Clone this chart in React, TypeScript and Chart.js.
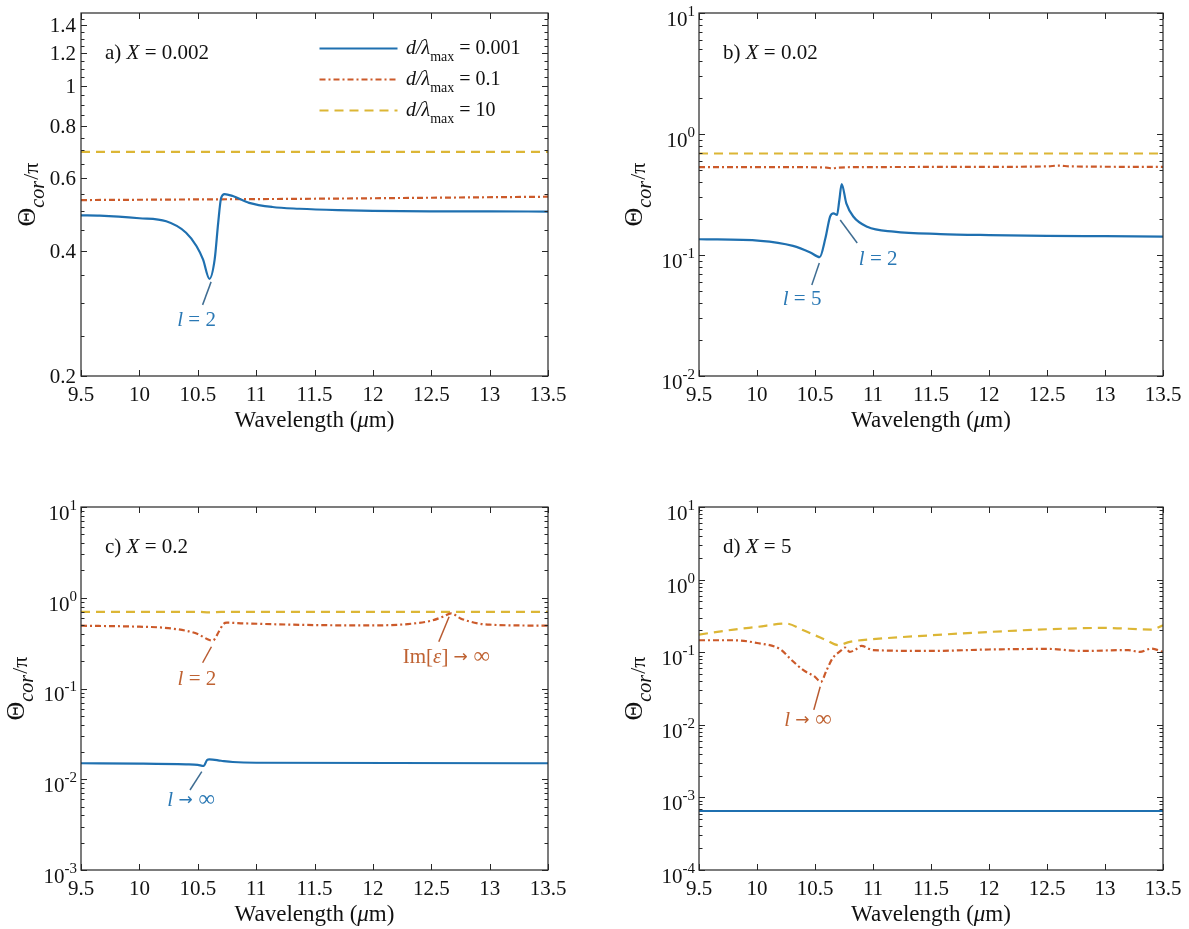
import React, { useEffect, useRef } from 'react';
import { Chart, registerables } from 'chart.js';

Chart.register(...registerables);

const SERIF = '"Liberation Serif", "Times New Roman", Times, serif';
const AXIS = '#262626';
const TEXT = '#111111';
const BLUE = '#1f70b0';
const RED = '#cc5a2a';
const YELLOW = '#dcb635';
const BLUE_TXT = '#2a78b4';
const BLUE_LEAD = '#3f6d92';
const RED_TXT = '#bf6232';
const RED_LEAD = '#b85a30';

// ---------- shared axis data ----------
const X_TICKS = [9.5, 10, 10.5, 11, 11.5, 12, 12.5, 13, 13.5];
const X_TICK_LABELS = ['9.5', '10', '10.5', '11', '11.5', '12', '12.5', '13', '13.5'];
const LEGEND_VALUES = ['0.001', '0.1', '10'];

// ---------- panel a) X = 0.002 ----------
const A_Y_TICKS = [0.2, 0.4, 0.6, 0.8, 1, 1.2, 1.4];
const A_Y_LABELS = ['0.2', '0.4', '0.6', '0.8', '1', '1.2', '1.4'];
const A_Y_MINOR = [0.25, 0.3, 0.35, 0.45, 0.5, 0.55, 0.65, 0.7, 0.75, 0.85, 0.9, 0.95, 1.05, 1.1, 1.15, 1.25, 1.3, 1.35, 1.45];
const A_BLUE_X = [9.5, 9.66, 10.0, 10.23, 10.4, 10.49, 10.545, 10.6, 10.645, 10.675, 10.7, 10.73, 10.8, 10.94, 11.14, 11.37, 11.7, 12.0, 12.5, 13.0, 13.5];
const A_BLUE_Y = [0.488, 0.487, 0.480, 0.472, 0.443, 0.411, 0.382, 0.343, 0.382, 0.468, 0.537, 0.549, 0.543, 0.523, 0.511, 0.506, 0.502, 0.500, 0.499, 0.499, 0.498];
const A_RED_X = [9.5, 10.5, 11.5, 12.5, 13.5];
const A_RED_Y = [0.531, 0.533, 0.535, 0.538, 0.541];
const A_YEL_X = [9.5, 13.5];
const A_YEL_Y = [0.694, 0.694];

// ---------- panel b) X = 0.02 ----------
const B_Y_EXP = [-2, -1, 0, 1];
const B_BLUE_X = [9.5, 10.03, 10.31, 10.46, 10.54, 10.59, 10.63, 10.66, 10.69, 10.71, 10.73, 10.77, 10.83, 10.95, 11.18, 11.58, 12.0, 12.5, 13.0, 13.5];
const B_BLUE_Y = [0.135, 0.131, 0.119, 0.105, 0.096, 0.138, 0.208, 0.221, 0.214, 0.285, 0.386, 0.267, 0.208, 0.171, 0.156, 0.149, 0.146, 0.144, 0.143, 0.142];
const B_RED_X = [9.5, 10.3, 10.6, 10.65, 10.7, 11.0, 12.0, 12.5, 12.6, 12.7, 13.5];
const B_RED_Y = [0.533, 0.532, 0.528, 0.52, 0.528, 0.533, 0.535, 0.54, 0.548, 0.54, 0.535];
const B_YEL_X = [9.5, 13.5];
const B_YEL_Y = [0.69, 0.69];

// ---------- panel c) X = 0.2 ----------
const C_Y_EXP = [-3, -2, -1, 0, 1];
const C_BLUE_X = [9.5, 10.0, 10.4, 10.5, 10.55, 10.58, 10.6, 10.7, 10.8, 11.0, 13.5];
const C_BLUE_Y = [0.0150, 0.0149, 0.0146, 0.0144, 0.0140, 0.0163, 0.0166, 0.0160, 0.0155, 0.0152, 0.0150];
const C_RED_X = [9.5, 10.0, 10.2, 10.4, 10.5, 10.6, 10.63, 10.68, 10.72, 10.75, 10.9, 11.5, 12.0, 12.3, 12.5, 12.6, 12.67, 12.75, 12.9, 13.0, 13.5];
const C_RED_Y = [0.492, 0.48, 0.468, 0.433, 0.398, 0.342, 0.338, 0.422, 0.513, 0.531, 0.522, 0.50, 0.496, 0.513, 0.558, 0.618, 0.672, 0.592, 0.522, 0.505, 0.492];
const C_YEL_X = [9.5, 10.5, 10.6, 10.7, 13.5];
const C_YEL_Y = [0.70, 0.70, 0.69, 0.70, 0.70];

// ---------- panel d) X = 5 ----------
const D_Y_EXP = [-4, -3, -2, -1, 0, 1];
const D_BLUE_X = [9.5, 13.5];
const D_BLUE_Y = [6.5e-4, 6.5e-4];
const D_RED_X = [9.5, 9.8, 10.0, 10.2, 10.3, 10.4, 10.5, 10.55, 10.6, 10.65, 10.72, 10.76, 10.8, 10.85, 10.9, 11.0, 11.5, 12.0, 12.5, 12.8, 13.2, 13.3, 13.4, 13.5];
const D_RED_Y = [0.146, 0.146, 0.134, 0.11, 0.0776, 0.0565, 0.0458, 0.039, 0.0565, 0.0818, 0.104, 0.116, 0.101, 0.109, 0.122, 0.107, 0.104, 0.109, 0.111, 0.104, 0.107, 0.101, 0.112, 0.101];
const D_YEL_X = [9.5, 9.8, 10.0, 10.25, 10.4, 10.5, 10.6, 10.7, 10.8, 11.0, 11.5, 12.0, 12.5, 13.0, 13.4, 13.5];
const D_YEL_Y = [0.175, 0.205, 0.223, 0.248, 0.2, 0.171, 0.146, 0.125, 0.139, 0.151, 0.171, 0.19, 0.207, 0.216, 0.205, 0.235];

// ---------- types & helpers ----------
type Run = { t: string; size?: number; italic?: boolean; dy?: number; family?: string };
type Series = { x: number[]; y: number[]; color: string; dash: number[] };
type Note = { x: number; y: number; l0: [number, number]; l1: [number, number]; t: [number, number]; runs: Run[]; color: string; lead: string };
type Panel = {
  key: string;
  rect: { left: number; top: number; w: number; h: number };
  padTop: number; padRight: number; yW: number; xH: number;
  yMin: number; yMax: number;
  yTicks: number[]; yLabels?: string[]; yExp?: number[]; yMinor: number[];
  label: Run[];
  series: Series[];
  notes: Note[];
  legend: boolean;
  yTitleOff: number;
};

const DASH_SOLID: number[] = [];
const DASH_DOT: number[] = [6, 3, 2, 3];
const DASH_DASH: number[] = [9, 6];

const logMinor = (lo: number, hi: number) => {
  const out: number[] = [];
  for (let e = lo; e < hi; e++) for (let m = 2; m <= 9; m++) out.push(m * Math.pow(10, e));
  return out;
};

const fontOf = (r: Run) => `${r.italic ? 'italic ' : ''}${r.size ?? 20}px ${r.family ?? SERIF}`;

function runsWidth(ctx: CanvasRenderingContext2D, runs: Run[]) {
  let w = 0;
  for (const r of runs) { ctx.font = fontOf(r); w += ctx.measureText(r.t).width; }
  return w;
}

function drawRuns(ctx: CanvasRenderingContext2D, runs: Run[], x: number, y: number, align: 'left' | 'center' | 'right') {
  const w = runsWidth(ctx, runs);
  let cx = align === 'left' ? x : align === 'center' ? x - w / 2 : x - w;
  ctx.textAlign = 'left';
  ctx.textBaseline = 'alphabetic';
  for (const r of runs) {
    ctx.font = fontOf(r);
    ctx.fillText(r.t, cx, y + (r.dy ?? 0));
    cx += ctx.measureText(r.t).width;
  }
}

const CAP = 0.66;
const MAJ = 6;
const MIN = 3.5;

function makePlugin(p: Panel) {
  return {
    id: 'deco_' + p.key,
    afterDraw(chart: any) {
      const ctx: CanvasRenderingContext2D = chart.ctx;
      const ca = chart.chartArea;
      const xs = chart.scales.x;
      const ys = chart.scales.y;
      ctx.save();

      // frame
      ctx.strokeStyle = AXIS;
      ctx.lineWidth = 1.2;
      ctx.setLineDash([]);
      ctx.strokeRect(ca.left, ca.top, ca.right - ca.left, ca.bottom - ca.top);

      // ticks
      ctx.lineWidth = 1;
      ctx.beginPath();
      for (const v of X_TICKS) {
        const px = Math.round(xs.getPixelForValue(v)) + 0.5;
        ctx.moveTo(px, ca.bottom); ctx.lineTo(px, ca.bottom - MAJ);
        ctx.moveTo(px, ca.top); ctx.lineTo(px, ca.top + MAJ);
      }
      const yTick = (v: number, len: number) => {
        const py = Math.round(ys.getPixelForValue(v)) + 0.5;
        ctx.moveTo(ca.left, py); ctx.lineTo(ca.left + len, py);
        ctx.moveTo(ca.right, py); ctx.lineTo(ca.right - len, py);
      };
      for (const v of p.yTicks) yTick(v, MAJ);
      for (const v of p.yMinor) if (v > p.yMin && v < p.yMax) yTick(v, MIN);
      ctx.stroke();

      // tick labels
      ctx.fillStyle = TEXT;
      X_TICKS.forEach((v, i) => {
        drawRuns(ctx, [{ t: X_TICK_LABELS[i], size: 21 }], xs.getPixelForValue(v), ca.bottom + 18 + 21 * CAP / 2, 'center');
      });
      p.yTicks.forEach((v, i) => {
        const py = ys.getPixelForValue(v);
        if (p.yLabels) {
          drawRuns(ctx, [{ t: p.yLabels[i], size: 21 }], ca.left - 5, py + 21 * CAP / 2, 'right');
        } else if (p.yExp) {
          const e = p.yExp[i];
          drawRuns(ctx, [{ t: '10', size: 21 }, { t: String(e), size: 15, dy: -10 }], ca.left - 4, py + 6 + 21 * CAP / 2, 'right');
        }
      });

      // axis titles
      const cxm = (ca.left + ca.right) / 2;
      drawRuns(ctx, [{ t: 'Wavelength (', size: 23 }, { t: 'μ', size: 23, italic: true }, { t: 'm)', size: 23 }], cxm, ca.bottom + 43 + 23 * CAP / 2, 'center');
      ctx.save();
      ctx.translate(ca.left - p.yTitleOff, (ca.top + ca.bottom) / 2);
      ctx.rotate(-Math.PI / 2);
      drawRuns(ctx, [{ t: 'Θ', size: 26 }, { t: 'cor', size: 20, italic: true, dy: 9 }, { t: ' ', size: 5 }, { t: '/π', size: 22, dy: 3 }], 0, 0, 'center');
      ctx.restore();

      // panel label
      drawRuns(ctx, p.label, ca.left + 24, ca.top + 39 + 21 * CAP / 2, 'left');

      // legend
      if (p.legend) {
        p.series.forEach((s, i) => {
          const ly = ca.top + 35.5 + 31 * i;
          ctx.strokeStyle = s.color;
          ctx.lineWidth = 2;
          ctx.setLineDash(s.dash);
          ctx.beginPath();
          ctx.moveTo(ca.left + 238.5, ly); ctx.lineTo(ca.left + 316.5, ly);
          ctx.stroke();
          ctx.setLineDash([]);
          ctx.fillStyle = TEXT;
          drawRuns(ctx, [
            { t: 'd/λ', italic: true, size: 20 },
            { t: 'max', size: 14, dy: 7.4 },
            { t: ' = ' + LEGEND_VALUES[i], size: 20 },
          ], ca.left + 325, ly + 5, 'left');
        });
      }

      // annotations
      for (const n of p.notes) {
        const ax = xs.getPixelForValue(n.x);
        const ay = ys.getPixelForValue(n.y);
        ctx.strokeStyle = n.lead;
        ctx.lineWidth = 1.5;
        ctx.setLineDash([]);
        ctx.beginPath();
        ctx.moveTo(ax + n.l0[0], ay + n.l0[1]);
        ctx.lineTo(ax + n.l1[0], ay + n.l1[1]);
        ctx.stroke();
        ctx.fillStyle = n.color;
        drawRuns(ctx, n.runs, ax + n.t[0], ay + n.t[1] + 20 * CAP / 2, 'center');
      }
      ctx.restore();
    },
  };
}

const mkSeries = (bx: number[], by: number[], rx: number[], ry: number[], yx: number[], yy: number[]): Series[] => [
  { x: bx, y: by, color: BLUE, dash: DASH_SOLID },
  { x: rx, y: ry, color: RED, dash: DASH_DOT },
  { x: yx, y: yy, color: YELLOW, dash: DASH_DASH },
];

const ARROW_FONT = '"DejaVu Sans", sans-serif';
const lEq = (v: string): Run[] => [{ t: 'l', italic: true, size: 21 }, { t: ' = ' + v, size: 21 }];
const lInf: Run[] = [{ t: 'l ', italic: true, size: 21 }, { t: '→', size: 17, family: ARROW_FONT, dy: -1 }, { t: ' ∞', size: 23 }];
const imInf: Run[] = [{ t: 'Im[', size: 21 }, { t: 'ε', italic: true, size: 21 }, { t: '] ', size: 21 }, { t: '→', size: 17, family: ARROW_FONT, dy: -1 }, { t: ' ∞', size: 23 }];
const panelLabel = (letter: string, v: string): Run[] => [{ t: letter + ') ', size: 21 }, { t: 'X', italic: true, size: 21 }, { t: ' = ' + v, size: 21 }];

const PANELS: Panel[] = [
  {
    key: 'a', rect: { left: 0, top: 0, w: 594, h: 464 }, padTop: 13, padRight: 46, yW: 81, xH: 88,
    yMin: 0.2, yMax: 1.5, yTicks: A_Y_TICKS, yLabels: A_Y_LABELS, yMinor: A_Y_MINOR,
    label: panelLabel('a', '0.002'),
    series: mkSeries(A_BLUE_X, A_BLUE_Y, A_RED_X, A_RED_Y, A_YEL_X, A_YEL_Y),
    notes: [{ x: 10.61, y: 0.341, l0: [0.5, 2], l1: [-8, 25], t: [-14, 40], runs: lEq('2'), color: BLUE_TXT, lead: BLUE_LEAD }],
    legend: true, yTitleOff: 46,
  },
  {
    key: 'b', rect: { left: 594, top: 0, w: 595, h: 464 }, padTop: 13, padRight: 26, yW: 105, xH: 88,
    yMin: 0.01, yMax: 10, yTicks: B_Y_EXP.map((e) => Math.pow(10, e)), yExp: B_Y_EXP, yMinor: logMinor(-2, 1),
    label: panelLabel('b', '0.02'),
    series: mkSeries(B_BLUE_X, B_BLUE_Y, B_RED_X, B_RED_Y, B_YEL_X, B_YEL_Y),
    notes: [
      { x: 10.55, y: 0.0963, l0: [-1.5, 6], l1: [-9, 28], t: [-18.7, 41], runs: lEq('5'), color: BLUE_TXT, lead: BLUE_LEAD },
      { x: 10.7, y: 0.21, l0: [2, 4], l1: [19, 27], t: [40, 42], runs: lEq('2'), color: BLUE_TXT, lead: BLUE_LEAD },
    ],
    legend: false, yTitleOff: 57,
  },
  {
    key: 'c', rect: { left: 0, top: 464, w: 594, h: 465 }, padTop: 43, padRight: 46, yW: 81, xH: 59,
    yMin: 0.001, yMax: 10, yTicks: C_Y_EXP.map((e) => Math.pow(10, e)), yExp: C_Y_EXP, yMinor: logMinor(-3, 1),
    label: panelLabel('c', '0.2'),
    series: mkSeries(C_BLUE_X, C_BLUE_Y, C_RED_X, C_RED_Y, C_YEL_X, C_YEL_Y),
    notes: [
      { x: 10.63, y: 0.342, l0: [-1.5, 6.7], l1: [-10.3, 22.7], t: [-16, 38.3], runs: lEq('2'), color: RED_TXT, lead: RED_LEAD },
      { x: 12.67, y: 0.672, l0: [-2, 3.3], l1: [-12.3, 28.3], t: [-4.7, 43.3], runs: imInf, color: RED_TXT, lead: RED_LEAD },
      { x: 10.55, y: 0.014, l0: [-1.8, 5.7], l1: [-13.6, 24], t: [-12.5, 33.3], runs: lInf, color: BLUE_TXT, lead: BLUE_LEAD },
    ],
    legend: false, yTitleOff: 57,
  },
  {
    key: 'd', rect: { left: 594, top: 464, w: 595, h: 465 }, padTop: 43, padRight: 26, yW: 105, xH: 59,
    yMin: 1e-4, yMax: 10, yTicks: D_Y_EXP.map((e) => Math.pow(10, e)), yExp: D_Y_EXP, yMinor: logMinor(-4, 1),
    label: panelLabel('d', '5'),
    series: mkSeries(D_BLUE_X, D_BLUE_Y, D_RED_X, D_RED_Y, D_YEL_X, D_YEL_Y),
    notes: [
      { x: 10.55, y: 0.039, l0: [-0.6, 4.8], l1: [-7, 28], t: [-12.8, 38], runs: lInf, color: RED_TXT, lead: RED_LEAD },
    ],
    legend: false, yTitleOff: 57,
  },
];

function PanelChart({ p }: { p: Panel }) {
  const ref = useRef<HTMLCanvasElement | null>(null);
  useEffect(() => {
    const canvas = ref.current;
    if (!canvas) return;
    const chart = new Chart(canvas, {
      type: 'line',
      data: {
        datasets: p.series.map((s) => ({
          data: s.x.map((x, i) => ({ x, y: s.y[i] })),
          borderColor: s.color,
          borderWidth: 2.2,
          borderDash: s.dash,
          pointRadius: 0,
          fill: false,
          cubicInterpolationMode: 'monotone' as const,
        })),
      },
      options: {
        animation: false,
        responsive: false,
        maintainAspectRatio: false,
        events: [],
        layout: { padding: { left: 0, top: p.padTop, right: p.padRight, bottom: 0 } },
        plugins: { legend: { display: false }, tooltip: { enabled: false }, title: { display: false } },
        scales: {
          x: {
            type: 'linear', min: 9.5, max: 13.5,
            grid: { display: false }, border: { display: false }, ticks: { display: false },
            afterBuildTicks: (s: any) => { s.ticks = X_TICKS.map((v) => ({ value: v })); },
            afterFit: (s: any) => { s.height = p.xH; },
          },
          y: {
            type: 'logarithmic', min: p.yMin, max: p.yMax,
            grid: { display: false }, border: { display: false }, ticks: { display: false },
            afterBuildTicks: (s: any) => { s.ticks = p.yTicks.map((v) => ({ value: v })); },
            afterFit: (s: any) => { s.width = p.yW; },
          },
        },
      } as any,
      plugins: [makePlugin(p)],
    });
    return () => chart.destroy();
  }, [p]);
  return (
    <canvas
      ref={ref}
      width={p.rect.w}
      height={p.rect.h}
      style={{ position: 'absolute', left: p.rect.left, top: p.rect.top, width: p.rect.w, height: p.rect.h }}
    />
  );
}

export default function App() {
  return (
    <div style={{ position: 'absolute', left: 0, top: 0, width: 1189, height: 929, background: '#ffffff' }}>
      {PANELS.map((p) => <PanelChart key={p.key} p={p} />)}
    </div>
  );
}
